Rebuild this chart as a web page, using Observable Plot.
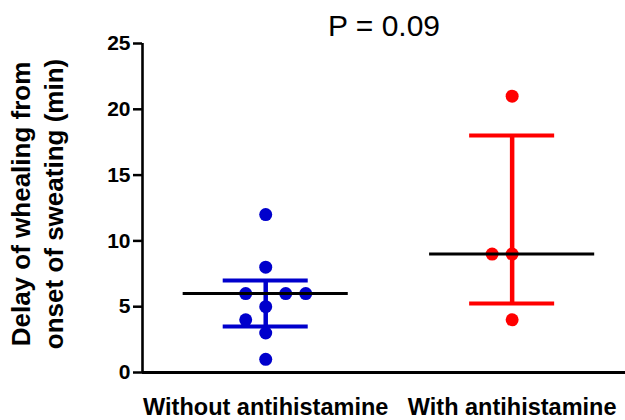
<!DOCTYPE html>
<html>
<head>
<meta charset="utf-8">
<script src="https://cdn.jsdelivr.net/npm/d3@7"></script>
<script src="https://cdn.jsdelivr.net/npm/@observablehq/plot@0.6"></script>
<style>
  body { margin: 0; background: #fff; }
</style>
</head>
<body>
<div id="chart"></div>
<script>
// Groups and their colours
const groups = ["Without antihistamine", "With antihistamine"];
const groupColors = ["#0000cc", "#ff0000"];

// Individual delays (min) per group, with their column in the scatter swarm
const withoutValues = [12, 8, 6, 6, 6, 5, 4, 3, 1];
const withoutSlots  = [0, 0, -1, 1, 2, 0, -1, 0, 0];
const withValues = [21, 9, 9, 4];
const withSlots  = [0, -1, 0, 0];

const yTicks = [0, 5, 10, 15, 20, 25];
const pLabel = "P = 0.09";
const yLabel = "Delay of whealing from\nonset of sweating (min)";

// Percentile at rank (n + 1)p with linear interpolation
function percentile(values, p) {
  const s = [...values].sort((a, b) => a - b);
  const n = s.length;
  let r = (n + 1) * p;
  r = Math.max(1, Math.min(n, r));
  const lo = Math.floor(r), frac = r - lo;
  if (lo >= n) return s[n - 1];
  return s[lo - 1] + frac * (s[lo] - s[lo - 1]);
}

const seriesValues = [withoutValues, withValues];
const seriesSlots = [withoutSlots, withSlots];

const points = [];
seriesValues.forEach((vals, i) => {
  vals.forEach((v, j) => points.push({g: i + 1, slot: seriesSlots[i][j], value: v, color: groupColors[i]}));
});

const summary = seriesValues.map((vals, i) => ({
  g: i + 1,
  color: groupColors[i],
  median: percentile(vals, 0.5),
  q1: percentile(vals, 0.25),
  q3: percentile(vals, 0.75)
}));

const step = 0.0812;     // swarm column spacing, in x units
const capHalf = 0.1725;  // half-width of the error-bar caps
const medHalf = 0.335;   // half-width of the median line

const font = "'Liberation Sans', Arial, Helvetica, sans-serif";

const chart = Plot.plot({
  width: 625,
  height: 420,
  marginLeft: 142,
  marginRight: 0,
  marginTop: 43,
  marginBottom: 48,
  style: {fontFamily: font, color: "#000", background: "#fff", overflow: "visible"},
  x: {domain: [0.5, 2.46], axis: null},
  y: {domain: [0, 25], axis: null},
  color: {type: "identity"},
  marks: [
    // axis lines
    Plot.ruleY([0], {stroke: "#000", strokeWidth: 3}),
    Plot.ruleX([0.5], {stroke: "#000", strokeWidth: 2.6}),
    Plot.axisY({
      ticks: yTicks, tickSize: 9, tickPadding: 3, strokeWidth: 2.5,
      fontSize: 21, fontWeight: "bold", label: null
    }),
    Plot.axisX({
      ticks: [1, 2], tickFormat: d => groups[d - 1], tickSize: 0, tickPadding: 26,
      fontSize: 23.5, fontWeight: "bold", label: null
    }),
    // individual observations
    Plot.dot(points, {x: d => d.g + d.slot * step, y: "value", r: 6.5, fill: "color", stroke: null}),
    // interquartile range bars with caps
    Plot.ruleX(summary, {x: "g", y1: "q1", y2: "q3", stroke: "color", strokeWidth: 4.5}),
    Plot.ruleY(summary, {y: "q1", x1: d => d.g - capHalf, x2: d => d.g + capHalf, stroke: "color", strokeWidth: 4}),
    Plot.ruleY(summary, {y: "q3", x1: d => d.g - capHalf, x2: d => d.g + capHalf, stroke: "color", strokeWidth: 4}),
    // medians
    Plot.ruleY(summary, {y: "median", x1: d => d.g - medHalf, x2: d => d.g + medHalf, stroke: "#000", strokeWidth: 3}),
    // y-axis title
    Plot.text([yLabel], {
      frameAnchor: "left", dx: -107, dy: -4, rotate: -90, lineHeight: 1.28,
      fontSize: 26, fontWeight: "bold", textAnchor: "middle", lineAnchor: "middle", fill: "#000"
    }),
    // p-value
    Plot.text([pLabel], {
      frameAnchor: "top", dy: -17.6, lineAnchor: "middle", fontSize: 30, fill: "#000"
    })
  ]
});

document.getElementById("chart").append(chart);
</script>
</body>
</html>
